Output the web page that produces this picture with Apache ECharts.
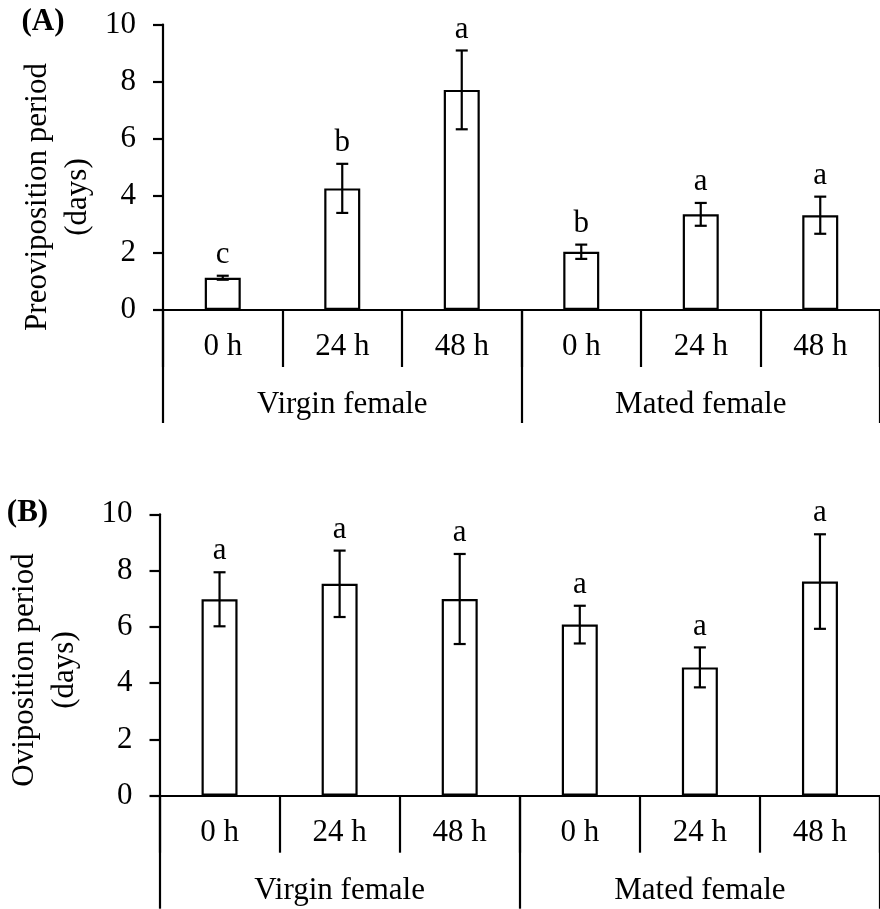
<!DOCTYPE html>
<html>
<head>
<meta charset="utf-8">
<script src="https://cdn.jsdelivr.net/npm/echarts@6/dist/echarts.min.js"></script>
<style>
html,body{margin:0;padding:0;background:#fff;}
#chart{width:880px;height:909px;}
</style>
</head>
<body>
<div id="chart"></div>
<script>
// ---- data ----
const categories = ['0 h', '24 h', '48 h', '0 h', '24 h', '48 h'];
const groups = ['Virgin female', 'Mated female'];
const yTicks = [0, 2, 4, 6, 8, 10];

const preMean = [1.13, 4.26, 7.71, 2.04, 3.35, 3.32];
const preErr = [0.07, 0.86, 1.38, 0.25, 0.40, 0.65];
const preLetters = ['c', 'b', 'a', 'b', 'a', 'a'];

const oviMean = [6.98, 7.53, 6.99, 6.08, 4.56, 7.61];
const oviErr = [0.96, 1.18, 1.60, 0.67, 0.71, 1.68];
const oviLetters = ['a', 'a', 'a', 'a', 'a', 'a'];

const panelLabels = ['(A)', '(B)'];
const yTitles = ['Preoviposition period\n(days)', 'Oviposition period\n(days)'];

// ---- styling ----
const FONT = '"Liberation Serif", "Times New Roman", serif';
const FS = 31;
const black = '#000';

function errRender(letters) {
  return function (params, api) {
    const i = api.value(0);
    const m = api.value(1);
    const e = api.value(2);
    const top = api.coord([i, m + e]);
    const bot = api.coord([i, m - e]);
    const cap = 6;
    const ls = { stroke: black, lineWidth: 2.2 };
    return {
      type: 'group',
      children: [
        { type: 'line', shape: { x1: top[0], y1: top[1], x2: bot[0], y2: bot[1] }, style: ls },
        { type: 'line', shape: { x1: top[0] - cap, y1: top[1], x2: top[0] + cap, y2: top[1] }, style: ls },
        { type: 'line', shape: { x1: bot[0] - cap, y1: bot[1], x2: bot[0] + cap, y2: bot[1] }, style: ls },
        {
          type: 'text',
          style: {
            text: letters[params.dataIndex],
            x: top[0], y: top[1] - 21,
            align: 'center', verticalAlign: 'middle',
            font: FS + 'px ' + FONT, fill: black
          }
        }
      ]
    };
  };
}

function yAxisFor(gi) {
  return {
    type: 'value', gridIndex: gi, min: yTicks[0], max: yTicks[yTicks.length - 1], interval: 2,
    axisLine: { show: true, lineStyle: { color: black, width: 2.2 } },
    axisTick: { show: true, inside: false, length: 10, lineStyle: { color: black, width: 2.2 } },
    axisLabel: { color: black, fontFamily: FONT, fontSize: FS, margin: 27 },
    splitLine: { show: false }
  };
}

function innerX(gi) {
  return {
    type: 'category', gridIndex: gi, position: 'bottom', data: categories,
    axisLine: { show: true, onZero: false, lineStyle: { color: black, width: 2.2 } },
    axisTick: { show: true, length: 57, interval: 0, lineStyle: { color: black, width: 2.2 } },
    axisLabel: { color: black, fontFamily: FONT, fontSize: FS, lineHeight: 32, margin: 21, interval: 0 }
  };
}
function outerX(gi) {
  return {
    type: 'category', gridIndex: gi, position: 'bottom', offset: 0, data: groups,
    axisLine: { show: false },
    axisTick: { show: true, length: 113, interval: 0, lineStyle: { color: black, width: 2.2 } },
    axisLabel: { color: black, fontFamily: FONT, fontSize: FS, lineHeight: 32, margin: 79, interval: 0 }
  };
}

function barSeries(xi, yi, data) {
  return {
    type: 'bar', xAxisIndex: xi, yAxisIndex: yi, data: data, barWidth: 36,
    itemStyle: { color: '#fff', borderColor: black, borderWidth: 2.2 },
    silent: true, animation: false
  };
}
function errSeries(xi, yi, means, errs, letters) {
  return {
    type: 'custom', xAxisIndex: xi, yAxisIndex: yi,
    data: means.map((m, i) => [i, m, errs[i]]),
    encode: { x: 0, y: 1 },
    renderItem: errRender(letters),
    z: 10, silent: true, animation: false
  };
}

const chart = echarts.init(document.getElementById('chart'), null, { renderer: 'canvas' });
chart.setOption({
  backgroundColor: '#fff',
  animation: false,
  grid: [
    { left: 163, top: 24.5, width: 726, height: 285.5 },
    { left: 159.5, top: 514.3, width: 726, height: 281.4 }
  ],
  xAxis: [innerX(0), outerX(0), innerX(1), outerX(1)],
  yAxis: [yAxisFor(0), yAxisFor(1)],
  series: [
    barSeries(0, 0, preMean),
    errSeries(0, 0, preMean, preErr, preLetters),
    barSeries(2, 1, oviMean),
    errSeries(2, 1, oviMean, oviErr, oviLetters)
  ],
  graphic: [
    { type: 'text', x: 43, y: 22, style: { text: panelLabels[0], font: 'bold ' + FS + 'px ' + FONT, fill: black, align: 'center', verticalAlign: 'middle' } },
    { type: 'text', x: 27.5, y: 513, style: { text: panelLabels[1], font: 'bold ' + FS + 'px ' + FONT, fill: black, align: 'center', verticalAlign: 'middle' } },
    { type: 'text', x: 57.5, y: 197, rotation: Math.PI / 2, style: { text: yTitles[0], font: FS + 'px ' + FONT, lineHeight: 40, fill: black, align: 'center', verticalAlign: 'middle' } },
    { type: 'text', x: 45, y: 670, rotation: Math.PI / 2, style: { text: yTitles[1], font: FS + 'px ' + FONT, lineHeight: 40, fill: black, align: 'center', verticalAlign: 'middle' } }
  ]
});
</script>
</body>
</html>
